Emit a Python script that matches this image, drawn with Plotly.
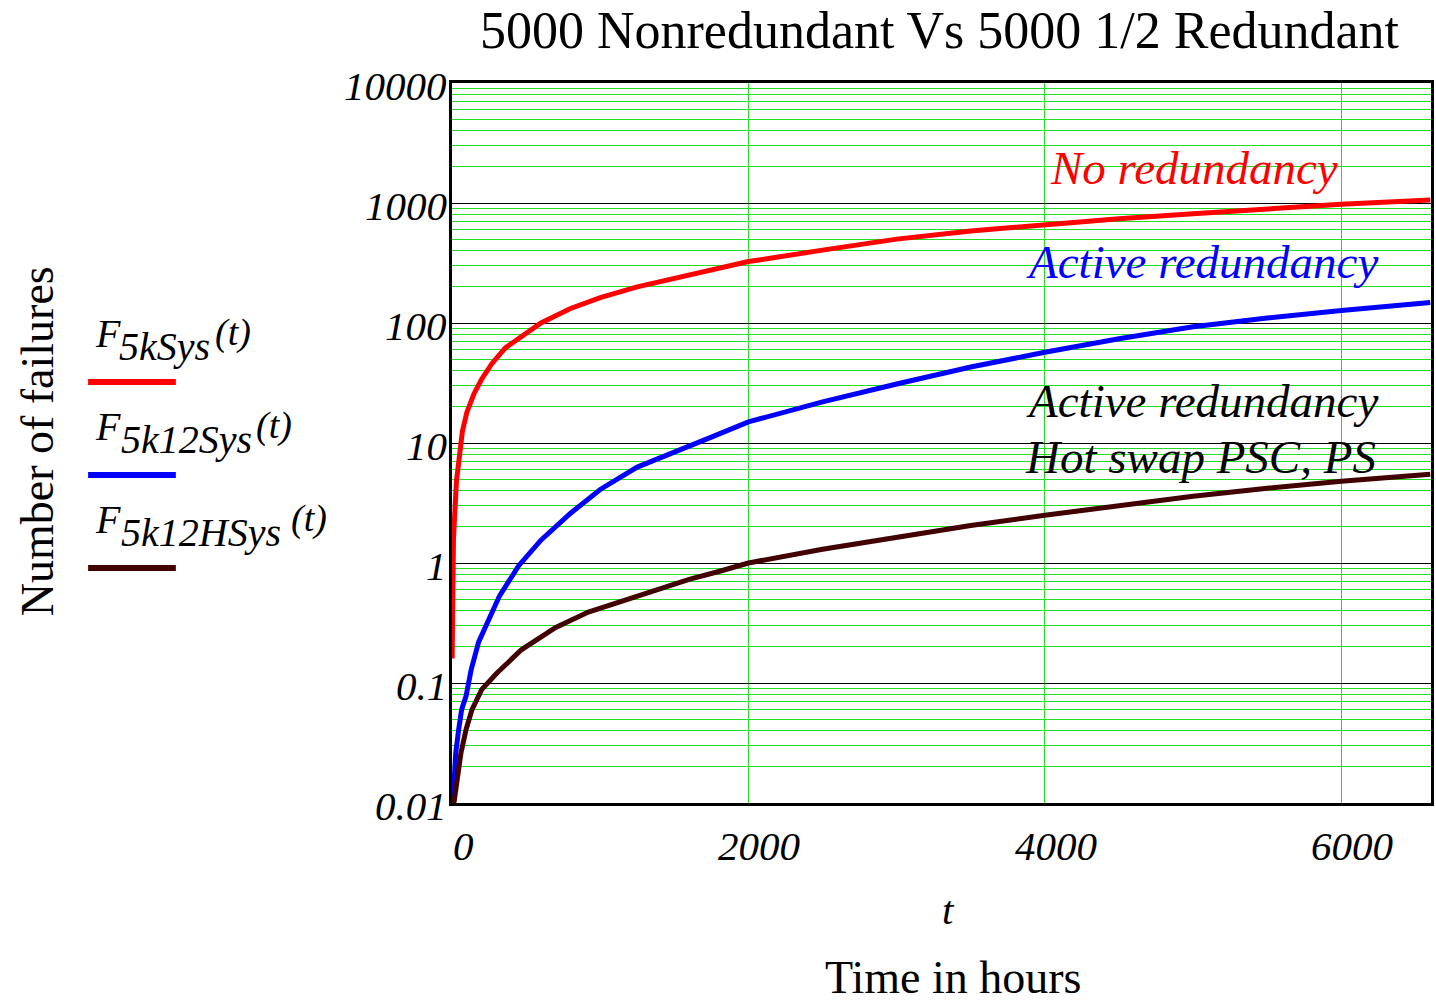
import math
import plotly.graph_objects as go

# ---------------- data ----------------
red_t = [1, 10, 30, 50, 70, 100, 150, 200, 270, 360, 600, 800, 1000, 1250, 1500,
         1750, 2000, 2500, 3000, 3500, 4000, 4500, 5000, 5500, 6000, 6600]
red_y = [0.16, 1.6, 4.8, 8, 12.5, 18, 26, 34, 46, 62, 100, 132, 163, 200, 237,
         280, 325, 405, 500, 585, 660, 740, 815, 900, 975, 1060]

blue_t = [8, 25, 45, 65, 95, 130, 180, 250, 320, 450, 600, 800, 1000, 1250, 1500,
          1750, 2000, 2500, 3000, 3500, 4000, 4500, 5000, 5500, 6000, 6600]
blue_y = [0.011, 0.026, 0.041, 0.06, 0.078, 0.13, 0.22, 0.34, 0.53, 0.95, 1.55,
          2.6, 4.1, 6.3, 8.5, 11.2, 15, 22, 31, 43, 57, 74, 93, 110, 127, 148]

brown_t = [13, 35, 60, 95, 135, 200, 300, 470, 700, 920, 1150, 1370, 1600, 1800,
           2000, 2500, 3000, 3500, 4000, 4500, 5000, 5500, 6000, 6600]
brown_y = [0.01, 0.017, 0.026, 0.041, 0.06, 0.088, 0.12, 0.19, 0.29, 0.39, 0.48,
           0.58, 0.73, 0.85, 1.0, 1.3, 1.65, 2.05, 2.5, 3.0, 3.6, 4.2, 4.8, 5.5]

x_ticks = [0, 2000, 4000, 6000]
x_tick_text = ["0", "2000", "4000", "6000"]
y_ticks = [0.01, 0.1, 1, 10, 100, 1000, 10000]
y_tick_text = ["0.01", "0.1", "1", "10", "100", "1000", "10000"]

series_names = ["5kSys", "5k12Sys", "5k12HSys"]
colors = ["#ff0000", "#0000ff", "#420000"]

# ---------------- layout geometry ----------------
W, H = 1436, 1006
L, R, T, B = 452, 2, 83, 203
PW = W - L - R
PH = H - T - B


def px(x):
    return (x - L) / PW


def py(y):
    return (H - B - y) / PH


SERIF = "Liberation Serif"

fig = go.Figure()
for t, y, c, n in zip([red_t, blue_t, brown_t], [red_y, blue_y, brown_y], colors, series_names):
    fig.add_trace(go.Scatter(x=t, y=y, mode="lines", line=dict(color=c, width=5),
                             name=n, showlegend=False))

fig.update_layout(
    width=W, height=H,
    margin=dict(l=L, r=R, t=T, b=B),
    paper_bgcolor="white", plot_bgcolor="white",
    font=dict(family=SERIF, color="black"),
    xaxis=dict(
        range=[0, 6605], tickvals=x_ticks, showticklabels=False,
        showgrid=True, gridcolor="#22dd22", gridwidth=1,
        zeroline=False, showline=True, linecolor="black", linewidth=3, mirror=True,
        ticks="",
    ),
    yaxis=dict(
        type="log", range=[-2, 4], tickvals=y_ticks, showticklabels=False,
        showgrid=True, gridcolor="black", gridwidth=1,
        minor=dict(dtick="D1", showgrid=True, gridcolor="#22dd22", gridwidth=1, ticks=""),
        zeroline=False, showline=True, linecolor="black", linewidth=3, mirror=True,
        ticks="",
    ),
)

ann = []
# tick labels (placed like the reference: x labels shifted right, y labels right-aligned)
for v, s in zip(x_ticks, x_tick_text):
    ann.append(dict(text=s, x=v, xref="x", y=py(846), xshift=11,
                    font=dict(size=41, family=SERIF, style="italic")))
for v, s in zip(y_ticks, y_tick_text):
    ann.append(dict(text=s, x=px(449), y=math.log10(v), yref="y", xanchor="right",
                    yshift=-3, font=dict(size=41, family=SERIF, style="italic")))
# title
ann.append(dict(text="5000 Nonredundant Vs 5000 1/2 Redundant", x=px(941), y=py(30),
                font=dict(size=52, family=SERIF)))
# axis titles
ann.append(dict(text="t", x=px(950), y=py(910), font=dict(size=41, family=SERIF, style="italic")))
ann.append(dict(text="Time in hours", x=px(955), y=py(1005), yanchor="bottom",
                font=dict(size=46, family=SERIF)))
ann.append(dict(text="Number of failures", x=px(36), y=py(441), textangle=-90,
                font=dict(size=46, family=SERIF)))
# in-plot labels
ann.append(dict(text="No redundancy", x=px(1196), y=py(168),
                font=dict(size=47, family=SERIF, style="italic", color="#ff0000")))
ann.append(dict(text="Active redundancy", x=px(1204), y=py(262),
                font=dict(size=47, family=SERIF, style="italic", color="#0000ff")))
ann.append(dict(text="Active redundancy", x=px(1204), y=py(401),
                font=dict(size=47, family=SERIF, style="italic", color="black")))
ann.append(dict(text="Hot swap PSC, PS", x=px(1203), y=py(457),
                font=dict(size=47, family=SERIF, style="italic", color="black")))

# legend-like labels: F, subscript, (t)
leg_y = [333, 426, 519]
sub_x0 = [116, 118, 118]
paren_x0 = [212, 253, 289]
line_y = [382, 475, 568]
for n, yy, sx, tx in zip(series_names, leg_y, sub_x0, paren_x0):
    ann.append(dict(text="F", x=px(92), y=py(yy), xanchor="left",
                    font=dict(size=40, family=SERIF, style="italic")))
    ann.append(dict(text=n, x=px(sx), y=py(yy + 13), xanchor="left",
                    font=dict(size=40, family=SERIF, style="italic")))
    ann.append(dict(text="(t)", x=px(tx), y=py(yy - 1), xanchor="left",
                    font=dict(size=38, family=SERIF, style="italic")))

for a in ann:
    a.setdefault("xref", "paper")
    a.setdefault("yref", "paper")
    a.setdefault("showarrow", False)
    a.setdefault("xanchor", "center")
    a.setdefault("yanchor", "middle")
fig.update_layout(annotations=ann)

shapes = []
for c, ly in zip(colors, line_y):
    shapes.append(dict(type="line", xref="paper", yref="paper",
                       x0=px(87), x1=px(175), y0=py(ly), y1=py(ly),
                       line=dict(color=c, width=6)))
fig.update_layout(shapes=shapes)

fig.write_html("out.html")
